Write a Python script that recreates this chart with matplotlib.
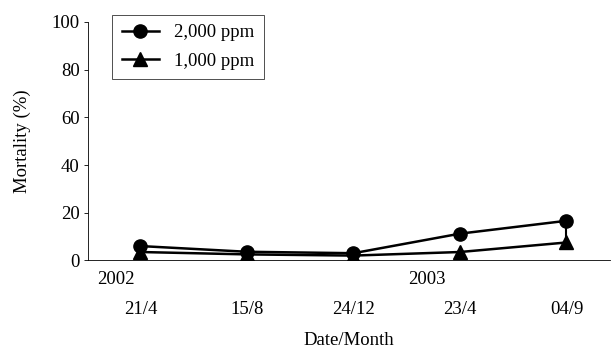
import matplotlib
matplotlib.use('Agg')
import matplotlib.pyplot as plt

dates = ['21/4', '15/8', '24/12', '23/4', '04/9']
years = ['2002', '2003']
year_pos = [-0.23, 2.69]
ppm2000 = [6.0, 3.6, 3.0, 11.2, 16.6]
ppm1000 = [3.5, 2.5, 2.0, 3.5, 7.5]
err2000_low = [0, 0, 0, 0, 9.1]

plt.rcParams['font.family'] = ['Liberation Serif', 'DejaVu Serif']
fs = 13.5

fig = plt.figure(figsize=(6.12, 3.49), dpi=100)
ax = fig.add_axes([0.144, 0.254, 0.853, 0.683])
x = list(range(len(dates)))

# vertical bar below the last 2,000 ppm point
ax.errorbar(x, ppm2000, yerr=[err2000_low, [0] * len(x)], fmt='none',
            ecolor='black', elinewidth=1.5, capsize=0)
l1, = ax.plot(x, ppm2000, color='black', lw=1.8, marker='o', ms=9.5, label='2,000 ppm')
l2, = ax.plot(x, ppm1000, color='black', lw=1.8, marker='^', ms=9.5, label='1,000 ppm')

ax.set_xlim(-0.49, 4.41)
ax.set_ylim(0, 100)
ax.set_yticks([0, 20, 40, 60, 80, 100])
ax.set_xticks(x)
ax.set_xticklabels(dates, fontsize=fs)
ax.tick_params(axis='x', length=0, pad=29)
ax.tick_params(axis='y', length=3, width=0.6, labelsize=fs, pad=3)
for s in ['top', 'right']:
    ax.spines[s].set_visible(False)
ax.spines['left'].set_linewidth(0.6)
ax.spines['bottom'].set_linewidth(0.6)

for yr, p in zip(years, year_pos):
    ax.text(p, -0.045, yr, transform=ax.get_xaxis_transform(), ha='center', va='top', fontsize=fs)

ax.set_ylabel('Mortality (%)', fontsize=fs, labelpad=15)
ax.set_xlabel('Date/Month', fontsize=fs, labelpad=10)

leg = ax.legend(handles=[l1, l2], loc='upper left', bbox_to_anchor=(0.046, 1.03),
                borderaxespad=0, fontsize=fs, frameon=True, fancybox=False,
                handlelength=2.0, borderpad=0.5, labelspacing=0.6)
leg.get_frame().set_edgecolor('black')
leg.get_frame().set_linewidth(0.6)

fig.savefig('out.png', dpi=100)
